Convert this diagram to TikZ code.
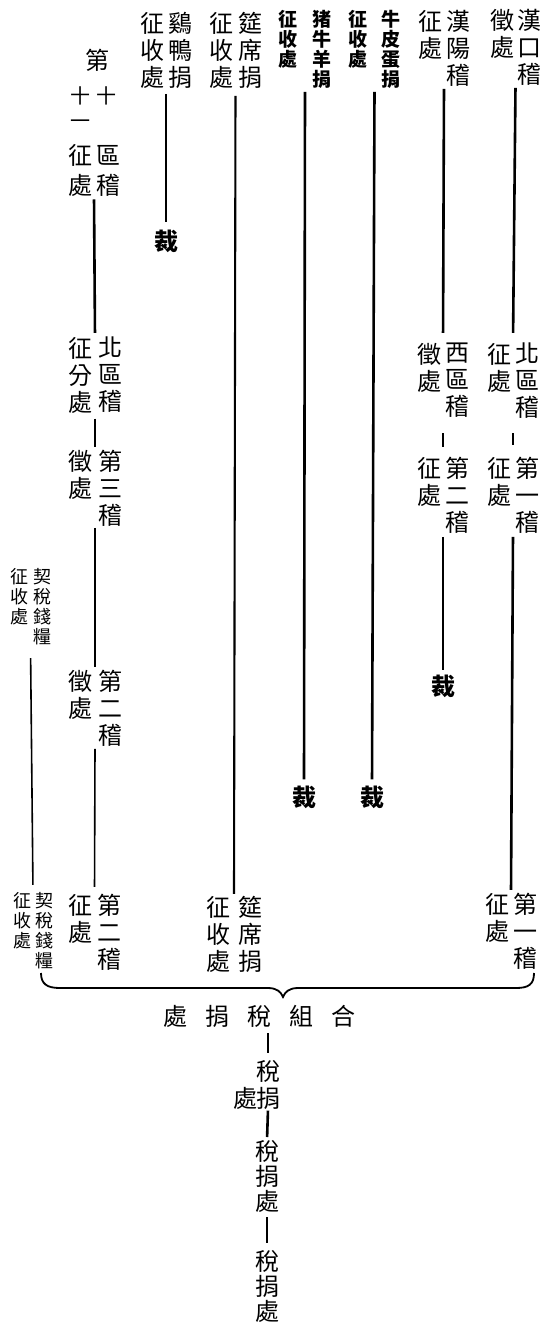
\documentclass[tikz,border=0pt]{standalone}
\usepackage{fontspec}
\newfontfamily\cjk{Noto Sans CJK TC}
\usetikzlibrary{fit}
\tikzset{
  lblbig/.style={font=\cjk\fontsize{24}{27}\selectfont, align=center, inner sep=0pt},
  lblnarrow/.style={font=\cjk\fontsize{20}{22}\selectfont, align=center, inner sep=0pt},
  lblsmall/.style={font=\cjk\bfseries\fontsize{19}{20}\selectfont, align=center, inner sep=0pt},
  lbltiny/.style={font=\cjk\fontsize{18}{20}\selectfont, align=center, inner sep=0pt},
  lbltight/.style={font=\cjk\fontsize{24}{25}\selectfont, align=center, inner sep=0pt},
  cutmark/.style={font=\cjk\bfseries\fontsize{24}{27}\selectfont, inner sep=0pt},
  mainline/.style={line width=2.6pt},
  midline/.style={line width=2.1pt},
  thinline/.style={line width=1.6pt},
  bracepath/.style={line width=1.8pt},
}
\newcommand\vblock[7]{%
  \node[#5, anchor=north] (#1R) at (#2,#4) {#6};
  \node[#5, anchor=north] (#1L) at (#3,#4) {#7};
  \node[fit=(#1R)(#1L), inner sep=0pt] (#1) {};
}
\begin{document}
\begin{tikzpicture}[x=1pt, y=-1pt]
\useasboundingbox (0,0) rectangle (541,1328);
\clip (0,0) rectangle (541,1328);
% top row
\vblock{hk}{529}{502}{9}{lblbig}{漢\\口\\稽}{徵\\處}
\vblock{hy}{458}{430}{10}{lblbig}{漢\\陽\\稽}{征\\處}
\vblock{nc}{391}{358}{10}{lblsmall}{牛\\皮\\蛋\\捐}{征\\收\\處}
\vblock{zn}{322}{288}{10}{lblsmall}{猪\\牛\\羊\\捐}{征\\收\\處}
\vblock{yx}{250}{221}{12}{lblbig}{筵\\席\\捐}{征\\收\\處}
\vblock{jy}{180}{152}{12}{lblbig}{鷄\\鴨\\捐}{征\\收\\處}
% 第十一 block
\node[lblbig] (t1) at (97,60) {第};
\node[lblnarrow] (t2) at (80,96) {十};
\node[lblnarrow] (t3) at (106,96) {十};
\node[lblnarrow] (t4) at (80,124) {一};
\node[lblbig] (t5) at (80,155) {征};
\node[lblbig] (t6) at (108,155) {區};
\node[lblbig] (t7) at (80,185) {處};
\node[lblbig] (t8) at (108,185) {稽};
\node[fit=(t1)(t2)(t3)(t4)(t5)(t6)(t7)(t8), inner sep=0pt] (d11) {};
% left chain
\vblock{bq11}{110}{80}{337}{lblbig}{北\\區\\稽}{征\\分\\處}
\vblock{d3}{110}{80}{450}{lblbig}{第\\三\\稽}{徵\\處}
\vblock{d2a}{110}{80}{670}{lblbig}{第\\二\\稽}{徵\\處}
\vblock{d2b}{109}{80}{894}{lblbig}{第\\二\\稽}{征\\處}
\vblock{qs}{42}{19}{568}{lbltiny}{契\\稅\\錢\\糧}{征\\收\\處}
\vblock{qsb}{44}{22}{892}{lbltiny}{契\\稅\\錢\\糧}{征\\收\\處}
\vblock{yxb}{250}{218}{896}{lblbig}{筵\\席\\捐}{征\\收\\處}
% right chains
\vblock{bqH}{527}{499}{343}{lblbig}{北\\區\\稽}{征\\處}
\vblock{dy1}{527}{499}{457}{lblbig}{第\\一\\稽}{征\\處}
\vblock{dy1b}{525}{497}{893}{lblbig}{第\\一\\稽}{征\\處}
\vblock{xq}{457}{429}{343}{lblbig}{西\\區\\稽}{徵\\處}
\vblock{d2h}{457}{429}{457}{lblbig}{第\\二\\稽}{征\\處}
% cut marks
\node[cutmark] (c1) at (443,686) {裁};
\node[cutmark] (c2) at (304,797) {裁};
\node[cutmark] (c3) at (372,797) {裁};
\node[cutmark] (c4) at (166,241) {裁};
% bottom
\node[lblbig] (hz) at (259,1016) {處\hspace{18pt}捐\hspace{18pt}稅\hspace{18pt}組\hspace{18pt}合};
\node[lblbig, anchor=north] (sj1R) at (268,1060) {稅\\捐};
\node[lblbig, anchor=north] (sj1L) at (245,1087) {處};
\node[lbltight, anchor=north] (sj2) at (267,1140) {稅\\捐\\處};
\node[lbltight, anchor=north] (sj3) at (267,1250) {稅\\捐\\處};
% connectors
\draw[mainline, shorten <=2pt, shorten >=10pt] (hk.south) -- (bqH.north);
\draw[mainline, shorten <=14pt, shorten >=12pt] (bqH.south) -- (dy1.north);
\draw[mainline, shorten <=3pt, shorten >=3pt] (dy1.south) -- (dy1b.north);
\draw[mainline, shorten <=2pt, shorten >=10pt] (hy.south) -- (xq.north);
\draw[mainline, shorten <=15pt, shorten >=10pt] (xq.south) -- (d2h.north);
\draw[mainline, shorten <=3pt, shorten >=4pt] (d2h.south) -- (c1.north);
\draw[mainline, shorten <=3pt, shorten >=6pt] (nc.south) -- (c3.north);
\draw[mainline, shorten <=3pt, shorten >=6pt] (zn.south) -- (c2.north);
\draw[midline, shorten <=7pt, shorten >=2pt] (yx.south) -- (yxb.north);
\draw[mainline, shorten <=5pt, shorten >=7pt] (jy.south) -- (c4.north);
\draw[mainline, shorten <=3pt, shorten >=4pt] (d11.south) -- (bq11.north);
\draw[mainline, shorten <=5pt, shorten >=3pt] (bq11.south) -- (d3.north);
\draw[mainline, shorten <=1pt, shorten >=3pt] (d3.south) -- (d2a.north);
\draw[thinline, shorten <=2pt, shorten >=7pt] (d2a.south) -- (d2b.north);
\draw[thinline, shorten <=13pt, shorten >=7pt] (qs.south) -- (qsb.north);
\draw[mainline, shorten <=6pt, shorten >=7pt] (hz.south -| sj1R.north) -- (sj1R.north);
\draw[mainline, shorten <=1pt, shorten >=3pt] (sj1R.south) -- (sj2.north);
\draw[mainline, shorten <=5pt, shorten >=7pt] (sj2.south) -- (sj3.north);
% brace
\draw[bracepath] (41,973) .. controls (41,984) and (47,988) .. (60,988) -- (268,988) .. controls (277,988) and (281,992) .. (283,997) .. controls (285,992) and (289,988) .. (298,988) -- (516,988) .. controls (529,988) and (534,984) .. (534,973);
\end{tikzpicture}
\end{document}
